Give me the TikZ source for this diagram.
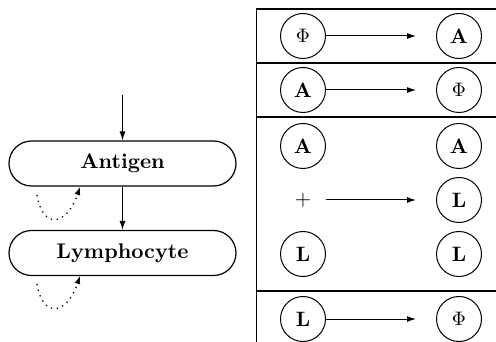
\documentclass[tikz,border=0pt]{standalone}
\usetikzlibrary{arrows.meta}
\newcommand{\bigtxt}[2]{\scalebox{#1}{#2}}
\begin{document}
\begin{tikzpicture}[x=1pt,y=-1pt,
  cell/.style={circle,draw,line width=1pt,minimum size=45pt,inner sep=0pt,font=\bfseries},
  ghost/.style={circle,minimum size=45pt,inner sep=0pt},
  box/.style={rectangle,draw,line width=1.2pt,rounded corners=22.5pt,minimum width=227pt,minimum height=45pt,inner sep=0pt,font=\bfseries},
  arr/.style={-{Latex[length=9pt,width=6pt]},line width=1pt},
  sep/.style={line width=2pt},
  loopy/.style={line width=1.3pt,dash pattern=on 1.3pt off 4.5pt,-{Latex[length=8pt,width=6pt]}}
]
\useasboundingbox (0,0) rectangle (496,342);
% left flow
\node[box] (ant) at (122.5,163.5) {\bigtxt{2.12}{Antigen}};
\node[box] (lym) at (122.5,253) {\bigtxt{2.12}{Lymphocyte}};
\coordinate (in) at (122.5,95);
\draw[arr] (in) -- (ant);
\draw[arr] (ant) -- (lym);
\coordinate (la1) at (37,195);
\coordinate (lb1) at (80,187);
\draw[loopy] (la1) .. controls (42,228) and (66,228) .. (lb1);
\coordinate (la2) at (37,284);
\coordinate (lb2) at (80,276);
\draw[loopy] (la2) .. controls (42,317) and (66,317) .. (lb2);
% right table
\draw[line width=1.2pt] (256,9) -- (496,9);
\draw[sep] (256,63) -- (496,63);
\draw[sep] (256,117) -- (496,117);
\draw[sep] (256,291) -- (496,291);
\draw[line width=1pt] (256,9) -- (256,342);
% row 1
\node[cell] (p1) at (303,36) {\bigtxt{1.95}{$\Phi$}};
\node[cell] (a1) at (459,36) {\bigtxt{2.08}{A}};
\coordinate (e1) at (416,36);
\draw[arr] (p1) -- (e1);
% row 2
\node[cell] (a2) at (303,90) {\bigtxt{2.08}{A}};
\node[cell] (p2) at (459,90) {\bigtxt{1.95}{$\Phi$}};
\coordinate (e2) at (416,90);
\draw[arr] (a2) -- (e2);
% row 3
\node[cell] (a3) at (303,146) {\bigtxt{2.08}{A}};
\node[cell] (a4) at (459,146) {\bigtxt{2.08}{A}};
\node[ghost] (plus) at (303,200) {\bigtxt{2.1}{$+$}};
\node[cell] (l4) at (459,200) {\bigtxt{2.08}{L}};
\coordinate (e3) at (416,200);
\draw[arr] (plus) -- (e3);
\node[cell] (l3) at (303,254) {\bigtxt{2.08}{L}};
\node[cell] (l5) at (459,254) {\bigtxt{2.08}{L}};
% row 4
\node[cell] (l6) at (303,319) {\bigtxt{2.08}{L}};
\node[cell] (p6) at (459,319) {\bigtxt{1.95}{$\Phi$}};
\coordinate (e4) at (416,319);
\draw[arr] (l6) -- (e4);
\end{tikzpicture}
\end{document}
